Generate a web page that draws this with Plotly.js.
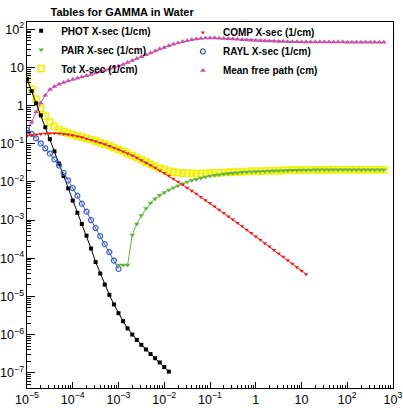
<!DOCTYPE html>
<html>
<head>
<meta charset="utf-8">
<script src="https://cdn.plot.ly/plotly-3.0.1.min.js"></script>
<style>html,body{margin:0;padding:0;background:#fff}#chart{width:403px;height:408px}</style>
</head>
<body>
<div id="chart"></div>
<script>
// Photon energy grid (GeV), 10 points per decade
const energy = [
  1e-5,1.26e-5,1.58e-5,2e-5,2.51e-5,3.16e-5,3.98e-5,5.01e-5,6.31e-5,7.94e-5,
  1e-4,1.26e-4,1.58e-4,2e-4,2.51e-4,3.16e-4,3.98e-4,5.01e-4,6.31e-4,7.94e-4,
  1e-3,1.26e-3,1.58e-3,2e-3,2.51e-3,3.16e-3,3.98e-3,5.01e-3,6.31e-3,7.94e-3,
  1e-2,1.26e-2,1.58e-2,2e-2,2.51e-2,3.16e-2,3.98e-2,5.01e-2,6.31e-2,7.94e-2,
  1e-1,1.26e-1,1.58e-1,2e-1,2.51e-1,3.16e-1,3.98e-1,5.01e-1,6.31e-1,7.94e-1,
  1,1.26,1.58,2,2.51,3.16,3.98,5.01,6.31,7.94,
  10,12.6,15.8,20,25.1,31.6,39.8,50.1,63.1,79.4,
  100,126,158,200,251,316,398,501,631
];
// PHOT X-sec (1/cm), energy[0..31]
const photXsec = [
  4.94,2.39,1.15,0.555,0.270,0.132,0.0631,0.0302,0.0142,0.00676,
  0.00324,0.00155,7.9e-4,3.9e-4,1.8e-4,7.94e-5,3.98e-5,2.04e-5,1.10e-5,6.17e-6,
  3.63e-6,2.24e-6,1.45e-6,1.0e-6,7.24e-7,5.37e-7,4.07e-7,3.09e-7,2.40e-7,1.86e-7,
  1.41e-7,1.07e-7
];
// RAYL X-sec (1/cm), energy[0..20]
const raylXsec = [
  0.229,0.182,0.138,0.102,0.0759,0.0550,0.0389,0.0269,0.0174,0.0110,
  0.00692,0.00437,0.00269,0.00166,0.00100,6.17e-4,3.80e-4,2.34e-4,1.45e-4,8.71e-5,
  5.25e-5
];
// COMP X-sec (1/cm), energy[0..61]
const compXsec = [
  0.160,0.168,0.175,0.181,0.185,0.187,0.187,0.185,0.181,0.175,
  0.166,0.157,0.147,0.136,0.126,0.116,0.106,0.0967,0.0875,0.0788,
  0.0707,0.0630,0.0558,0.0490,0.0428,0.0371,0.0320,0.0274,0.0234,0.0198,
  0.0170,0.0144,0.0121,0.0101,0.00848,0.00705,0.00586,0.00486,0.00402,0.00332,
  0.00275,0.00227,0.00186,0.00153,0.00125,0.00103,8.40e-4,6.87e-4,5.61e-4,4.58e-4,
  3.74e-4,3.05e-4,2.48e-4,2.02e-4,1.65e-4,1.34e-4,1.09e-4,8.83e-5,7.17e-5,5.82e-5,
  4.72e-5,3.83e-5
];
// PAIR X-sec (1/cm), energy[20..78]
const pairXsec = [
  6.61e-5,6.61e-5,6.61e-5,4.07e-4,7.94e-4,1.32e-3,2.00e-3,2.82e-3,3.63e-3,4.47e-3,
  5.25e-3,6.17e-3,7.08e-3,7.94e-3,8.91e-3,0.0100,0.0110,0.0117,0.0126,0.0135,
  0.0143,0.0150,0.0155,0.0160,0.0166,0.0170,0.0174,0.0178,0.0182,0.0184,
  0.0186,0.0188,0.0191,0.0193,0.0195,0.0197,0.0200,0.0201,0.0202,0.0203,
  0.0204,0.0205,0.0206,0.0207,0.0207,0.0207,0.0207,0.0208,0.0208,0.0208,
  0.0208,0.0208,0.0208,0.0208,0.0208,0.0208,0.0208,0.0208,0.0208
];
// Tot X-sec (1/cm), energy[0..78]
const totXsec = [
  5.33,2.73,1.46,0.834,0.526,0.368,0.283,0.236,0.208,0.189,
  0.173,0.160,0.149,0.137,0.127,0.117,0.107,0.0969,0.0877,0.0789,
  0.0708,0.0631,0.0559,0.0494,0.0436,0.0384,0.0335,0.0290,0.0256,0.0229,
  0.0210,0.0194,0.0181,0.0174,0.0170,0.0168,0.0167,0.0166,0.0166,0.0168,
  0.0170,0.0172,0.0174,0.0176,0.0178,0.0180,0.0182,0.0185,0.0188,0.0189,
  0.0190,0.0191,0.0193,0.0195,0.0197,0.0198,0.0201,0.0202,0.0203,0.0204,
  0.0205,0.0206,0.0206,0.0207,0.0207,0.0207,0.0207,0.0208,0.0208,0.0208,
  0.0208,0.0208,0.0208,0.0208,0.0208,0.0208,0.0208,0.0208,0.0208
];
// Mean free path (cm), energy[0..78]
const meanFreePath = [
  0.188,0.366,0.68,1.17,1.86,2.63,3.16,3.63,4.03,4.42,
  4.79,5.19,5.60,6.05,6.55,7.11,7.73,8.39,9.12,9.93,
  10.9,12.0,13.4,15.1,17.0,19.1,21.4,24.0,26.9,30.2,
  33.5,36.7,40.3,43.7,47.0,50.1,53.1,55.6,57.5,58.9,
  59.2,58.9,58.2,57.3,56.2,55.2,54.3,53.3,52.5,51.6,
  50.9,50.1,49.5,49.0,48.5,48.1,47.6,47.3,47.0,46.8,
  46.6,46.5,46.4,46.3,46.2,46.1,46.0,46.0,46.0,46.0,
  45.9,45.9,45.9,45.9,45.9,45.9,45.9,45.9,45.9
];

const FONT = 'Liberation Sans, Arial, Helvetica, sans-serif';

function series(name, x, y, color, symbol, size, legendId, rank, mlw) {
  const line = {
    type: 'scatter', mode: 'lines', x: x, y: y, name: name,
    line: {color: color, width: 1}, showlegend: false, hoverinfo: 'skip'
  };
  const open = symbol.indexOf('open') >= 0;
  const marks = {
    type: 'scatter', mode: 'markers', x: x, y: y, name: name,
    legend: legendId, legendrank: rank,
    marker: {symbol: symbol, size: size, color: color,
             line: {color: color, width: open ? (mlw || 1) : 0}}
  };
  return [line, marks];
}

const data = [].concat(
  series('Tot X-sec (1/cm)', energy.slice(0, 79), totXsec, '#f2f200', 'square-open', 6, 'legend', 3, 1.6),
  series('Mean free path (cm)', energy.slice(0, 79), meanFreePath, '#c850a8', 'triangle-up', 5, 'legend2', 3),
  series('PHOT X-sec (1/cm)', energy.slice(0, 32), photXsec, '#000000', 'square', 4, 'legend', 1),
  series('RAYL X-sec (1/cm)', energy.slice(0, 21), raylXsec, '#3a5cc4', 'circle-open', 5, 'legend2', 2, 1.2),
  series('PAIR X-sec (1/cm)', energy.slice(20, 79), pairXsec, '#66b544', 'triangle-down', 5, 'legend', 2),
  series('COMP X-sec (1/cm)', energy.slice(0, 62), compXsec, '#ee2020', 'triangle-down', 4, 'legend2', 1)
);

const axisCommon = {
  type: 'log', showline: true, mirror: true, linecolor: '#000', linewidth: 1,
  ticks: 'inside', tickcolor: '#000', tickwidth: 1, dtick: 1,
  exponentformat: 'power', showgrid: false, zeroline: false,
  ticklabeloverflow: 'allow',
  tickfont: {family: FONT, size: 10, color: '#000'}
};

const legendCommon = {
  xanchor: 'left', yanchor: 'top', bgcolor: 'rgba(0,0,0,0)', borderwidth: 0,
  font: {family: FONT, size: 10, color: '#000', weight: 'bold'},
  tracegroupgap: 0, itemwidth: 30
};

const layout = {
  width: 403, height: 408,
  margin: {l: 27, r: 10, t: 22, b: 20, pad: 0},
  paper_bgcolor: '#fff', plot_bgcolor: '#fff',
  showlegend: true,
  title: {
    text: 'Tables for GAMMA in Water',
    font: {family: FONT, size: 11, color: '#000', weight: 'bold'},
    x: 0.303, xanchor: 'center', xref: 'container',
    y: 0.969, yanchor: 'middle', yref: 'container'
  },
  xaxis: Object.assign({}, axisCommon, {
    range: [-5, 3], ticklen: 6,
    minor: {ticks: 'inside', ticklen: 3, tickcolor: '#000', showgrid: false}
  }),
  yaxis: Object.assign({}, axisCommon, {
    range: [-7.40, 2.19], ticklen: 8,
    minor: {ticks: 'inside', ticklen: 4, tickcolor: '#000', showgrid: false}
  }),
  legend: Object.assign({}, legendCommon, {x: -0.016, y: 1.016}),
  legend2: Object.assign({}, legendCommon, {x: 0.426, y: 1.011})
};

Plotly.newPlot('chart', data, layout, {staticPlot: true, displayModeBar: false});
</script>
</body>
</html>
